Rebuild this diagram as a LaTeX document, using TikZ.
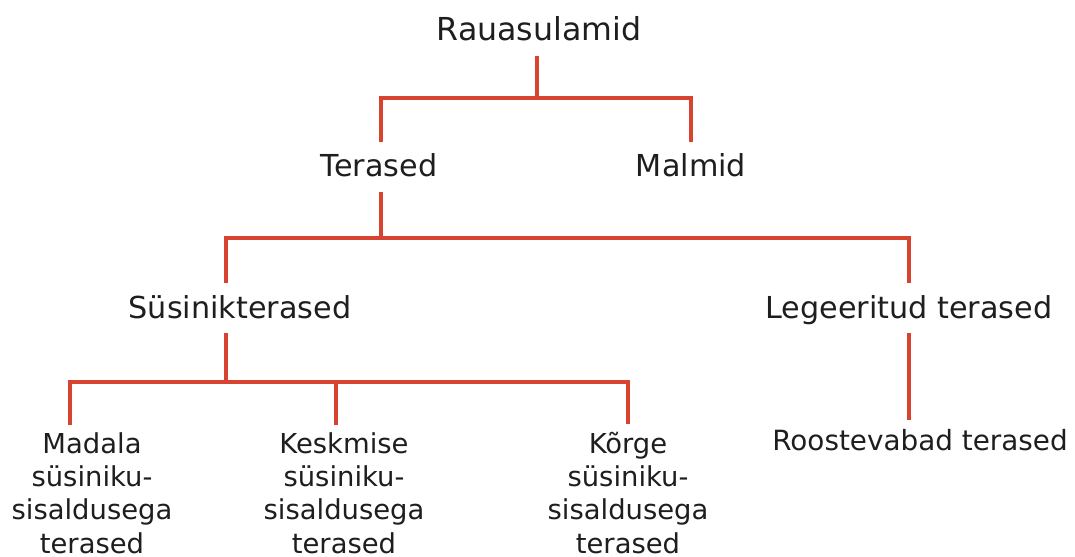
\documentclass[tikz,border=0pt]{standalone}
\usepackage{fontspec}
\setmainfont{DejaVu Sans}
\usepackage{tikz}
\definecolor{treered}{RGB}{216,67,48}
\definecolor{txt}{RGB}{30,30,30}

\begin{document}
\begin{tikzpicture}[x=0.025cm,y=-0.025cm,
  lbl/.style={anchor=base,text=txt,font=\fontsize{21.5}{23.5}\selectfont,text height=0.5cm,text depth=0pt,inner xsep=0pt,inner ysep=0.375cm},
  leaf/.style={anchor=base,text=txt,font=\fontsize{19.5}{23.5}\selectfont,align=center,inner xsep=0pt,inner ysep=0.2cm},
  branch/.style={draw=treered,line width=3.5pt,line join=miter}]
\useasboundingbox (0,0) rectangle (1075,557);
\node[lbl,font=\fontsize{22.5}{24}\selectfont] (rau) at (539,41) {Rauasulamid};
\node[lbl] (ter) at (379,177) {Terased};
\node[lbl] (mal) at (691,177) {Malmid};
\node[lbl] (sus) at (240,318) {Süsinikterased};
\node[lbl] (leg) at (909,318) {Legeeritud terased};
\node[lbl,font=\fontsize{19.8}{23.5}\selectfont,inner ysep=0.25cm] (roo) at (920,450) {Roostevabad terased};
\node[leaf] (mad) at (92,553) {Madala\\süsiniku-\\sisaldusega\\terased};
\node[leaf] (kes) at (344,553) {Keskmise\\süsiniku-\\sisaldusega\\terased};
\node[leaf] (kor) at (628,553) {Kõrge\\süsiniku-\\sisaldusega\\terased};
\coordinate (j1) at (537,98);
\coordinate (j2) at (381,238);
\coordinate (j3) at (226,382);
\draw[branch] (rau.south -| j1) -- (j1);
\draw[branch] (ter.north -| j2) |- (j1) -| (mal.north);
\draw[branch] (ter.south -| j2) -- (j2);
\draw[branch] ([xshift=-0.35cm]sus.north) |- (j2) -| (leg.north);
\draw[branch] (sus.south -| j3) -- (j3);
\draw[branch] ([xshift=-0.55cm]mad.north) |- (j3) -| (kor.north);
\draw[branch] ([xshift=-0.2cm]kes.north) -- ([xshift=-0.2cm]kes.north |- j3);
\draw[branch] (leg.south) -- (leg.south |- roo.north);
\end{tikzpicture}
\end{document}
